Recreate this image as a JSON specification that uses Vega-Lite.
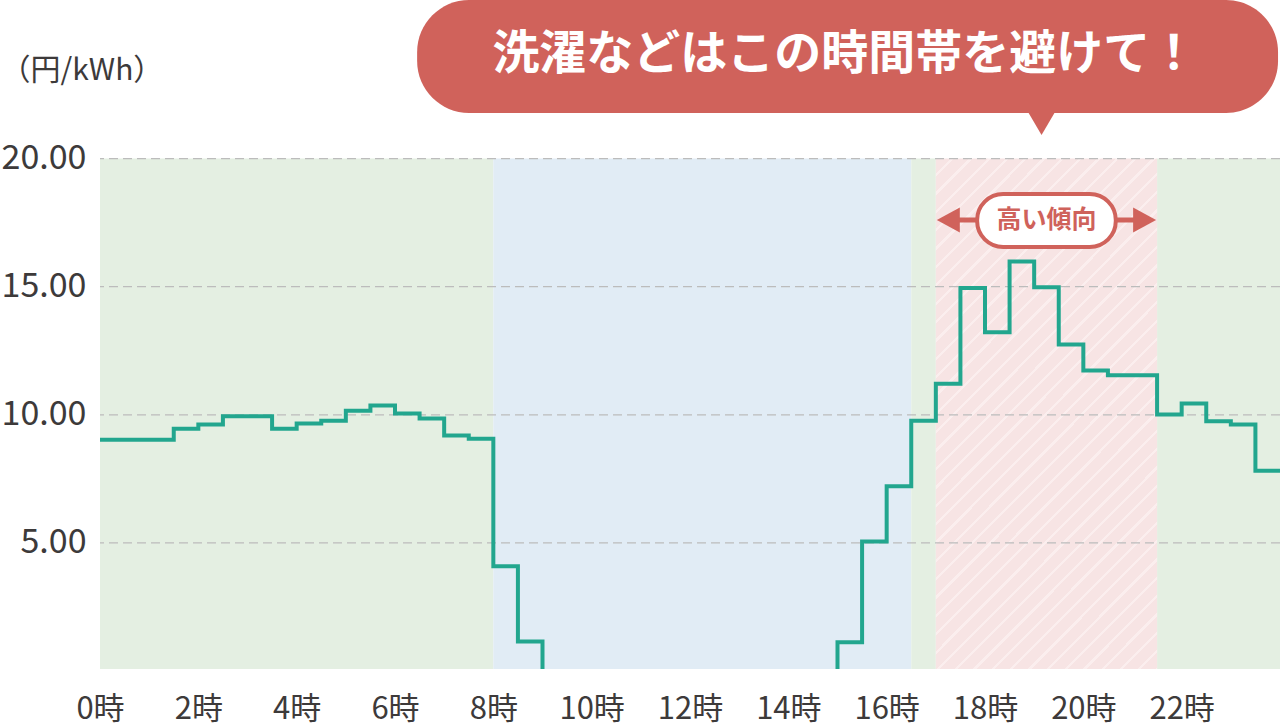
{
  "$schema": "https://vega.github.io/schema/vega-lite/v6.json",
  "description": "Half-hourly electricity price with peak-time callout",
  "autosize": "none",
  "width": 1180,
  "height": 669,
  "padding": {"left": 100, "top": 0, "right": 0, "bottom": 57},
  "background": "white",
  "config": {
    "font": "Noto Sans CJK JP",
    "view": {"stroke": null}
  },
  "datasets": {
    "prices": [
      {"h": 0, "price": 9.03}, {"h": 0.5, "price": 9.03}, {"h": 1, "price": 9.03}, {"h": 1.5, "price": 9.46},
      {"h": 2, "price": 9.62}, {"h": 2.5, "price": 9.94}, {"h": 3, "price": 9.94}, {"h": 3.5, "price": 9.46},
      {"h": 4, "price": 9.66}, {"h": 4.5, "price": 9.77}, {"h": 5, "price": 10.16}, {"h": 5.5, "price": 10.36},
      {"h": 6, "price": 10.05}, {"h": 6.5, "price": 9.86}, {"h": 7, "price": 9.19}, {"h": 7.5, "price": 9.07},
      {"h": 8, "price": 4.09}, {"h": 8.5, "price": 1.15}, {"h": 9, "price": 0}, {"h": 9.5, "price": 0},
      {"h": 10, "price": 0}, {"h": 10.5, "price": 0}, {"h": 11, "price": 0}, {"h": 11.5, "price": 0},
      {"h": 12, "price": 0}, {"h": 12.5, "price": 0}, {"h": 13, "price": 0}, {"h": 13.5, "price": 0},
      {"h": 14, "price": 0}, {"h": 14.5, "price": 0}, {"h": 15, "price": 1.12}, {"h": 15.5, "price": 5.06},
      {"h": 16, "price": 7.21}, {"h": 16.5, "price": 9.77}, {"h": 17, "price": 11.21}, {"h": 17.5, "price": 14.95},
      {"h": 18, "price": 13.22}, {"h": 18.5, "price": 15.98}, {"h": 19, "price": 14.98}, {"h": 19.5, "price": 12.74},
      {"h": 20, "price": 11.73}, {"h": 20.5, "price": 11.54}, {"h": 21, "price": 11.54}, {"h": 21.5, "price": 10.01},
      {"h": 22, "price": 10.44}, {"h": 22.5, "price": 9.75}, {"h": 23, "price": 9.62}, {"h": 23.5, "price": 7.82},
      {"h": 24, "price": 7.82}
    ],
    "zones": [
      {"start": 0, "end": 8, "zone": "off"},
      {"start": 8, "end": 16.5, "zone": "solar"},
      {"start": 16.5, "end": 17, "zone": "off"},
      {"start": 17, "end": 21.5, "zone": "peak"},
      {"start": 21.5, "end": 24, "zone": "off"}
    ],
    "grid": [{"v": 5}, {"v": 10}, {"v": 15}, {"v": 20}]
  },
  "layer": [
    {
      "data": {"name": "zones"},
      "transform": [{"filter": "datum.zone != 'peak'"}],
      "mark": {"type": "rect", "clip": true},
      "encoding": {
        "x": {
          "field": "start", "type": "quantitative",
          "scale": {"domain": [0, 24], "nice": false, "zero": false},
          "axis": {
            "values": [0, 2, 4, 6, 8, 10, 12, 14, 16, 18, 20, 22],
            "labelExpr": "datum.value + '時'",
            "labelFontSize": 31, "labelColor": "#3d3a3a", "labelPadding": 25,
            "labelBaseline": "top", "labelAlign": "center",
            "ticks": false, "domain": false, "grid": false, "title": "",
            "labelOverlap": false, "labelBound": false, "labelFlush": false
          }
        },
        "x2": {"field": "end"},
        "y": {
          "datum": 20, "type": "quantitative",
          "scale": {"domain": [0.08, 26.19], "nice": false, "zero": false},
          "axis": {
            "values": [5, 10, 15, 20],
            "format": ".2f",
            "labelFontSize": 34, "labelColor": "#3d3a3a", "labelPadding": 14,
            "ticks": false, "domain": false, "grid": false,
            "labelOverlap": false,
            "title": "（円/kWh）",
            "titleAngle": 0, "titleAlign": "left", "titleBaseline": "middle",
            "titleX": -100, "titleY": 70,
            "titleFontSize": 30, "titleFontWeight": "normal", "titleColor": "#3d3a3a"
          }
        },
        "y2": {"datum": 0},
        "color": {"field": "zone", "type": "nominal", "legend": null,
          "scale": {"domain": ["off", "solar"], "range": ["#e4efe2", "#e1ecf5"]}}
      }
    },
    {
      "data": {"name": "zones"},
      "transform": [{"filter": "datum.zone == 'peak'"}],
      "mark": {
        "type": "rect", "clip": true,
        "fill": {
          "gradient": "linear", "x1": 0, "y1": 0, "x2": 0.523, "y2": 1.207,
          "stops": [
            {"offset": 0, "color": "#f7e4e4"}, {"offset": 0.0205, "color": "#f7e4e4"}, {"offset": 0.0205, "color": "#fbeeee"}, {"offset": 0.025, "color": "#fbeeee"},
            {"offset": 0.025, "color": "#f7e4e4"}, {"offset": 0.0455, "color": "#f7e4e4"}, {"offset": 0.0455, "color": "#fbeeee"}, {"offset": 0.05, "color": "#fbeeee"},
            {"offset": 0.05, "color": "#f7e4e4"}, {"offset": 0.0705, "color": "#f7e4e4"}, {"offset": 0.0705, "color": "#fbeeee"}, {"offset": 0.075, "color": "#fbeeee"},
            {"offset": 0.075, "color": "#f7e4e4"}, {"offset": 0.0955, "color": "#f7e4e4"}, {"offset": 0.0955, "color": "#fbeeee"}, {"offset": 0.1, "color": "#fbeeee"},
            {"offset": 0.1, "color": "#f7e4e4"}, {"offset": 0.1205, "color": "#f7e4e4"}, {"offset": 0.1205, "color": "#fbeeee"}, {"offset": 0.125, "color": "#fbeeee"},
            {"offset": 0.125, "color": "#f7e4e4"}, {"offset": 0.1455, "color": "#f7e4e4"}, {"offset": 0.1455, "color": "#fbeeee"}, {"offset": 0.15, "color": "#fbeeee"},
            {"offset": 0.15, "color": "#f7e4e4"}, {"offset": 0.1705, "color": "#f7e4e4"}, {"offset": 0.1705, "color": "#fbeeee"}, {"offset": 0.175, "color": "#fbeeee"},
            {"offset": 0.175, "color": "#f7e4e4"}, {"offset": 0.1955, "color": "#f7e4e4"}, {"offset": 0.1955, "color": "#fbeeee"}, {"offset": 0.2, "color": "#fbeeee"},
            {"offset": 0.2, "color": "#f7e4e4"}, {"offset": 0.2205, "color": "#f7e4e4"}, {"offset": 0.2205, "color": "#fbeeee"}, {"offset": 0.225, "color": "#fbeeee"},
            {"offset": 0.225, "color": "#f7e4e4"}, {"offset": 0.2455, "color": "#f7e4e4"}, {"offset": 0.2455, "color": "#fbeeee"}, {"offset": 0.25, "color": "#fbeeee"},
            {"offset": 0.25, "color": "#f7e4e4"}, {"offset": 0.2705, "color": "#f7e4e4"}, {"offset": 0.2705, "color": "#fbeeee"}, {"offset": 0.275, "color": "#fbeeee"},
            {"offset": 0.275, "color": "#f7e4e4"}, {"offset": 0.2955, "color": "#f7e4e4"}, {"offset": 0.2955, "color": "#fbeeee"}, {"offset": 0.3, "color": "#fbeeee"},
            {"offset": 0.3, "color": "#f7e4e4"}, {"offset": 0.3205, "color": "#f7e4e4"}, {"offset": 0.3205, "color": "#fbeeee"}, {"offset": 0.325, "color": "#fbeeee"},
            {"offset": 0.325, "color": "#f7e4e4"}, {"offset": 0.3455, "color": "#f7e4e4"}, {"offset": 0.3455, "color": "#fbeeee"}, {"offset": 0.35, "color": "#fbeeee"},
            {"offset": 0.35, "color": "#f7e4e4"}, {"offset": 0.3705, "color": "#f7e4e4"}, {"offset": 0.3705, "color": "#fbeeee"}, {"offset": 0.375, "color": "#fbeeee"},
            {"offset": 0.375, "color": "#f7e4e4"}, {"offset": 0.3955, "color": "#f7e4e4"}, {"offset": 0.3955, "color": "#fbeeee"}, {"offset": 0.4, "color": "#fbeeee"},
            {"offset": 0.4, "color": "#f7e4e4"}, {"offset": 0.4205, "color": "#f7e4e4"}, {"offset": 0.4205, "color": "#fbeeee"}, {"offset": 0.425, "color": "#fbeeee"},
            {"offset": 0.425, "color": "#f7e4e4"}, {"offset": 0.4455, "color": "#f7e4e4"}, {"offset": 0.4455, "color": "#fbeeee"}, {"offset": 0.45, "color": "#fbeeee"},
            {"offset": 0.45, "color": "#f7e4e4"}, {"offset": 0.4705, "color": "#f7e4e4"}, {"offset": 0.4705, "color": "#fbeeee"}, {"offset": 0.475, "color": "#fbeeee"},
            {"offset": 0.475, "color": "#f7e4e4"}, {"offset": 0.4955, "color": "#f7e4e4"}, {"offset": 0.4955, "color": "#fbeeee"}, {"offset": 0.5, "color": "#fbeeee"},
            {"offset": 0.5, "color": "#f7e4e4"}, {"offset": 0.5205, "color": "#f7e4e4"}, {"offset": 0.5205, "color": "#fbeeee"}, {"offset": 0.525, "color": "#fbeeee"},
            {"offset": 0.525, "color": "#f7e4e4"}, {"offset": 0.5455, "color": "#f7e4e4"}, {"offset": 0.5455, "color": "#fbeeee"}, {"offset": 0.55, "color": "#fbeeee"},
            {"offset": 0.55, "color": "#f7e4e4"}, {"offset": 0.5705, "color": "#f7e4e4"}, {"offset": 0.5705, "color": "#fbeeee"}, {"offset": 0.575, "color": "#fbeeee"},
            {"offset": 0.575, "color": "#f7e4e4"}, {"offset": 0.5955, "color": "#f7e4e4"}, {"offset": 0.5955, "color": "#fbeeee"}, {"offset": 0.6, "color": "#fbeeee"},
            {"offset": 0.6, "color": "#f7e4e4"}, {"offset": 0.6205, "color": "#f7e4e4"}, {"offset": 0.6205, "color": "#fbeeee"}, {"offset": 0.625, "color": "#fbeeee"},
            {"offset": 0.625, "color": "#f7e4e4"}, {"offset": 0.6455, "color": "#f7e4e4"}, {"offset": 0.6455, "color": "#fbeeee"}, {"offset": 0.65, "color": "#fbeeee"},
            {"offset": 0.65, "color": "#f7e4e4"}, {"offset": 0.6705, "color": "#f7e4e4"}, {"offset": 0.6705, "color": "#fbeeee"}, {"offset": 0.675, "color": "#fbeeee"},
            {"offset": 0.675, "color": "#f7e4e4"}, {"offset": 0.6955, "color": "#f7e4e4"}, {"offset": 0.6955, "color": "#fbeeee"}, {"offset": 0.7, "color": "#fbeeee"},
            {"offset": 0.7, "color": "#f7e4e4"}, {"offset": 0.7205, "color": "#f7e4e4"}, {"offset": 0.7205, "color": "#fbeeee"}, {"offset": 0.725, "color": "#fbeeee"},
            {"offset": 0.725, "color": "#f7e4e4"}, {"offset": 0.7455, "color": "#f7e4e4"}, {"offset": 0.7455, "color": "#fbeeee"}, {"offset": 0.75, "color": "#fbeeee"},
            {"offset": 0.75, "color": "#f7e4e4"}, {"offset": 0.7705, "color": "#f7e4e4"}, {"offset": 0.7705, "color": "#fbeeee"}, {"offset": 0.775, "color": "#fbeeee"},
            {"offset": 0.775, "color": "#f7e4e4"}, {"offset": 0.7955, "color": "#f7e4e4"}, {"offset": 0.7955, "color": "#fbeeee"}, {"offset": 0.8, "color": "#fbeeee"},
            {"offset": 0.8, "color": "#f7e4e4"}, {"offset": 0.8205, "color": "#f7e4e4"}, {"offset": 0.8205, "color": "#fbeeee"}, {"offset": 0.825, "color": "#fbeeee"},
            {"offset": 0.825, "color": "#f7e4e4"}, {"offset": 0.8455, "color": "#f7e4e4"}, {"offset": 0.8455, "color": "#fbeeee"}, {"offset": 0.85, "color": "#fbeeee"},
            {"offset": 0.85, "color": "#f7e4e4"}, {"offset": 0.8705, "color": "#f7e4e4"}, {"offset": 0.8705, "color": "#fbeeee"}, {"offset": 0.875, "color": "#fbeeee"},
            {"offset": 0.875, "color": "#f7e4e4"}, {"offset": 0.8955, "color": "#f7e4e4"}, {"offset": 0.8955, "color": "#fbeeee"}, {"offset": 0.9, "color": "#fbeeee"},
            {"offset": 0.9, "color": "#f7e4e4"}, {"offset": 0.9205, "color": "#f7e4e4"}, {"offset": 0.9205, "color": "#fbeeee"}, {"offset": 0.925, "color": "#fbeeee"},
            {"offset": 0.925, "color": "#f7e4e4"}, {"offset": 0.9455, "color": "#f7e4e4"}, {"offset": 0.9455, "color": "#fbeeee"}, {"offset": 0.95, "color": "#fbeeee"},
            {"offset": 0.95, "color": "#f7e4e4"}, {"offset": 0.9705, "color": "#f7e4e4"}, {"offset": 0.9705, "color": "#fbeeee"}, {"offset": 0.975, "color": "#fbeeee"},
            {"offset": 0.975, "color": "#f7e4e4"}, {"offset": 0.9955, "color": "#f7e4e4"}, {"offset": 0.9955, "color": "#fbeeee"}, {"offset": 1, "color": "#fbeeee"}
          ]
        }
      },
      "encoding": {
        "x": {"field": "start", "type": "quantitative"},
        "x2": {"field": "end"},
        "y": {"datum": 20},
        "y2": {"datum": 0}
      }
    },
    {
      "data": {"name": "grid"},
      "mark": {"type": "rule", "color": "#bcbcbc", "strokeWidth": 1.2, "strokeDash": [9, 5]},
      "encoding": {
        "y": {"field": "v", "type": "quantitative"}
      }
    },
    {
      "data": {"name": "prices"},
      "mark": {"type": "line", "interpolate": "step-after", "color": "#22a68e", "strokeWidth": 4, "clip": true},
      "encoding": {
        "x": {"field": "h", "type": "quantitative"},
        "y": {"field": "price", "type": "quantitative"}
      }
    },
    {
      "data": {"values": [{}]},
      "mark": {"type": "rect", "color": "#d0625b", "cornerRadius": 52},
      "encoding": {
        "x": {"datum": 6.45},
        "x2": {"datum": 23.96},
        "y": {"datum": 21.78},
        "y2": {"datum": 26.19}
      }
    },
    {
      "data": {"values": [{}]},
      "mark": {"type": "point", "shape": "M-1,-1L1,-1L0,0.7Z", "size": 729, "filled": true, "color": "#d0625b", "opacity": 1},
      "encoding": {
        "x": {"datum": 19.15},
        "y": {"datum": 21.29}
      }
    },
    {
      "data": {"values": [{}]},
      "mark": {"type": "text", "text": "洗濯などはこの時間帯を避けて！", "color": "white", "fontSize": 47, "fontWeight": "bold", "align": "center", "baseline": "middle"},
      "encoding": {
        "x": {"datum": 15.15},
        "y": {"datum": 24.04}
      }
    },
    {
      "data": {"values": [{}]},
      "mark": {"type": "rule", "color": "#d0625b", "strokeWidth": 5},
      "encoding": {
        "x": {"datum": 17.3},
        "x2": {"datum": 21.2},
        "y": {"datum": 17.6}
      }
    },
    {
      "data": {"values": [{}]},
      "mark": {"type": "point", "shape": "M0,0L1.84,-1L1.84,1Z", "size": 625, "filled": true, "color": "#d0625b", "opacity": 1},
      "encoding": {
        "x": {"datum": 17.02},
        "y": {"datum": 17.6}
      }
    },
    {
      "data": {"values": [{}]},
      "mark": {"type": "point", "shape": "M0,0L-1.84,-1L-1.84,1Z", "size": 625, "filled": true, "color": "#d0625b", "opacity": 1},
      "encoding": {
        "x": {"datum": 21.48},
        "y": {"datum": 17.6}
      }
    },
    {
      "data": {"values": [{}]},
      "mark": {"type": "rect", "fill": "white", "stroke": "#d0625b", "strokeWidth": 4, "cornerRadius": 26},
      "encoding": {
        "x": {"datum": 17.84},
        "x2": {"datum": 20.66},
        "y": {"datum": 16.55},
        "y2": {"datum": 18.62}
      }
    },
    {
      "data": {"values": [{}]},
      "mark": {"type": "text", "text": "高い傾向", "color": "#cf625b", "fontSize": 25, "fontWeight": "bold", "align": "center", "baseline": "middle"},
      "encoding": {
        "x": {"datum": 19.25},
        "y": {"datum": 17.6}
      }
    }
  ]
}
